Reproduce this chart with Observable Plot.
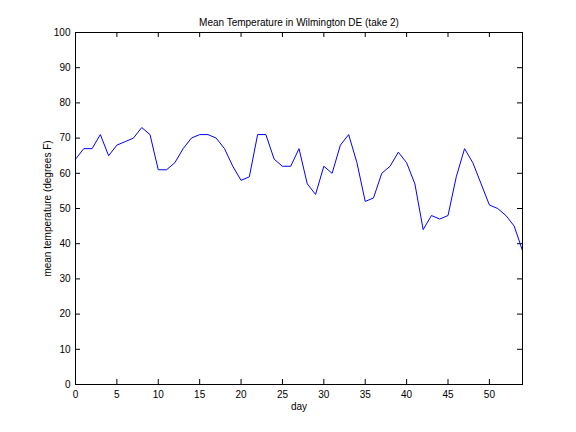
<!DOCTYPE html>
<html>
<head>
<meta charset="utf-8">
<script src="https://cdn.jsdelivr.net/npm/d3@7"></script>
<script src="https://cdn.jsdelivr.net/npm/@observablehq/plot@0.6"></script>
<style>
  html, body { margin: 0; padding: 0; background: #fff; }
  #chart { width: 576px; height: 432px; }
  svg { font-family: "Liberation Sans", Arial, Helvetica, sans-serif; }
</style>
</head>
<body>
<div id="chart"></div>
<script>
const days = d3.range(0, 55);
const temps = [64, 67, 67, 71, 65, 68, 69, 70, 73, 71,
               61, 61, 63, 67, 70, 71, 71, 70, 67, 62,
               58, 59, 71, 71, 64, 62, 62, 67, 57, 54,
               62, 60, 68, 71, 63, 52, 53, 60, 62, 66,
               63, 57, 44, 48, 47, 48, 59, 67, 63, 57,
               51, 50, 48, 45, 38];
const xTicks = [0, 5, 10, 15, 20, 25, 30, 35, 40, 45, 50];
const yTicks = [0, 10, 20, 30, 40, 50, 60, 70, 80, 90, 100];
const titleText = "Mean Temperature in Wilmington DE (take 2)";
const xLabel = "day";
const yLabel = "mean temperature (degrees F)";

const data = days.map((d, i) => ({day: d, temp: temps[i]}));

const marginLeft = 75, marginRight = 54, marginTop = 32, marginBottom = 48;
const W = 576, H = 432;
const innerH = H - marginTop - marginBottom;
const innerW = W - marginLeft - marginRight;
const tick = 5;

const chart = Plot.plot({
  width: W,
  height: H,
  marginLeft, marginRight, marginTop, marginBottom,
  style: {fontSize: "10px", fontFamily: '"Liberation Sans", Arial, sans-serif', background: "white", color: "black"},
  x: {domain: [0, 54], ticks: xTicks},
  y: {domain: [0, 100], ticks: yTicks},
  marks: [
    Plot.axisX(xTicks, {tickSize: 0, tickPadding: 6, label: null, fontSize: 10}),
    Plot.axisY(yTicks, {tickSize: 0, tickPadding: 5, label: null, fontSize: 10}),
    Plot.ruleX(xTicks, {insetTop: innerH - tick, stroke: "black"}),
    Plot.ruleX(xTicks, {insetBottom: innerH - tick, stroke: "black"}),
    Plot.ruleY(yTicks, {insetRight: innerW - tick, stroke: "black"}),
    Plot.ruleY(yTicks, {insetLeft: innerW - tick, stroke: "black"}),
    Plot.line(data, {x: "day", y: "temp", stroke: "blue", strokeWidth: 1}),
    Plot.frame({stroke: "black"}),
    Plot.text([titleText], {frameAnchor: "top", dy: -10, fontSize: 10, text: d => d, lineAnchor: "middle", textAnchor: "middle"}),
    Plot.text([xLabel], {frameAnchor: "bottom", dy: 22, fontSize: 10, text: d => d, lineAnchor: "middle", textAnchor: "middle"}),
    Plot.text([yLabel], {frameAnchor: "left", dx: -28, rotate: -90, fontSize: 10, text: d => d, lineAnchor: "middle", textAnchor: "middle"})
  ]
});
document.getElementById("chart").appendChild(chart);
</script>
</body>
</html>
